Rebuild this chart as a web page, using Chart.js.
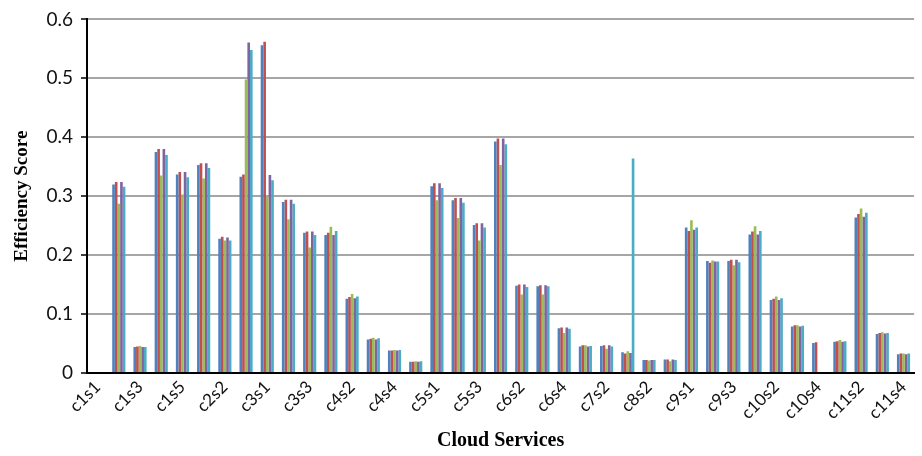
<!DOCTYPE html>
<html>
<head>
<meta charset="utf-8">
<script src="https://cdn.jsdelivr.net/npm/chart.js@4/dist/chart.umd.min.js"></script>
<style>
  html, body { margin: 0; padding: 0; background: #fff; }
  #wrap { width: 922px; height: 456px; position: relative; }
</style>
</head>
<body>
<div id="wrap"><canvas id="chart" width="922" height="456"></canvas></div>
<script>
// Cloud service identifiers (x axis categories)
const services = [
  'c1s1','c1s2','c1s3','c1s4','c1s5',
  'c2s1','c2s2','c2s3',
  'c3s1','c3s2','c3s3',
  'c4s1','c4s2','c4s3','c4s4','c4s5',
  'c5s1','c5s2','c5s3',
  'c6s1','c6s2','c6s3','c6s4',
  'c7s1','c7s2',
  'c8s1','c8s2','c8s3',
  'c9s1','c9s2','c9s3',
  'c10s1','c10s2','c10s3','c10s4',
  'c11s1','c11s2','c11s3','c11s4'
];

// Efficiency scores, one array per series
const scoreSet1 = [0,.320,.044,.375,.337,.353,.228,.333,.556,.290,.238,.234,.126,.057,.038,.019,.317,.293,.251,.393,.148,.147,.076,.045,.046,.035,.022,.023,.247,.190,.190,.235,.124,.079,.051,.053,.264,.066,.032];
const scoreSet2 = [0,.324,.045,.380,.341,.356,.231,.337,.562,.294,.240,.238,.129,.058,.038,.019,.322,.297,.254,.398,.150,.149,.077,.047,.047,.033,.022,.023,.241,.187,.192,.240,.126,.081,.052,.054,.270,.068,.033];
const scoreSet3 = [0,.287,.046,.335,.303,.330,.225,.498,.299,.261,.213,.248,.134,.060,.039,.020,.293,.263,.225,.353,.133,.133,.068,.047,.041,.037,.021,.020,.259,.191,.183,.249,.130,.081,null,.056,.279,.069,.033];
const scoreSet4 = [0,.324,.044,.380,.341,.356,.230,.561,.336,.294,.240,.234,.127,.057,.038,.019,.322,.297,.254,.398,.150,.149,.077,.045,.047,.034,.022,.023,.243,.189,.192,.235,.124,.079,null,.053,.265,.067,.032];
const scoreSet5 = [0,.316,.044,.370,.332,.348,.225,.548,.327,.287,.234,.241,.130,.059,.039,.020,.314,.289,.247,.388,.146,.147,.075,.046,.045,.364,.022,.022,.247,.189,.188,.241,.127,.080,null,.054,.272,.068,.033];

// y axis tick values
const yTicks = [0, 0.1, 0.2, 0.3, 0.4, 0.5, 0.6];

const seriesColors = ['#4F81BD', '#C0504D', '#9BBB59', '#8064A2', '#4BACC6'];
const seriesData = [scoreSet1, scoreSet2, scoreSet3, scoreSet4, scoreSet5];

const datasets = seriesData.map((d, i) => ({
  label: 'Series ' + (i + 1),
  data: d,
  backgroundColor: seriesColors[i],
  borderWidth: 0,
  categoryPercentage: 0.62,
  barPercentage: 1.0
}));

new Chart(document.getElementById('chart'), {
  type: 'bar',
  data: { labels: services, datasets },
  options: {
    responsive: false,
    animation: false,
    devicePixelRatio: 1,
    layout: { padding: { left: 0, right: 5, top: 17, bottom: 0 } },
    plugins: { legend: { display: false }, tooltip: { enabled: false } },
    scales: {
      x: {
        offset: true,
        grid: { display: false, drawTicks: false },
        border: { display: true, color: '#000', width: 2 },
        ticks: {
          autoSkip: false,
          minRotation: 45,
          maxRotation: 45,
          padding: 4,
          color: '#111',
          font: { family: 'Lato', size: 17 },
          callback: function (v, i) { return i % 2 === 0 ? services[i] : ''; }
        },
        title: {
          display: true,
          text: 'Cloud Services',
          color: '#000',
          font: { family: 'Liberation Serif', size: 20, weight: 'bold' },
          padding: { top: 0, bottom: 3 }
        },
        afterFit: s => { s.height = 83; }
      },
      y: {
        min: 0,
        max: 0.6,
        afterBuildTicks: s => { s.ticks = yTicks.map(v => ({ value: v })); },
        grid: {
          color: '#a6a6a6',
          lineWidth: 2,
          tickColor: '#000',
          tickLength: 6,
          tickWidth: 1.5
        },
        border: { display: true, color: '#000', width: 2 },
        ticks: {
          padding: 8,
          color: '#111',
          font: { family: 'Lato', size: 19 },
          callback: v => (v === 0 ? '0' : v.toFixed(1))
        },
        title: {
          display: true,
          text: 'Efficiency Score',
          color: '#000',
          font: { family: 'Liberation Serif', size: 19, weight: 'bold' },
          padding: { top: 11, bottom: 0 }
        },
        afterFit: s => { s.width = 87; }
      }
    }
  }
});
</script>
</body>
</html>
